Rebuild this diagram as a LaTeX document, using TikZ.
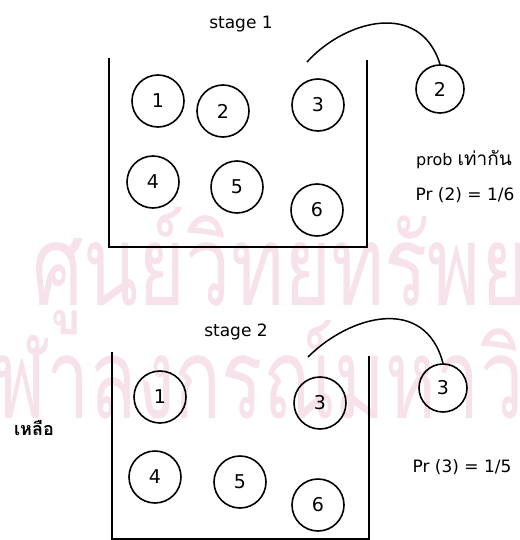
\documentclass[tikz,border=0pt]{standalone}
\usepackage{fontspec}
\setmainfont{DejaVu Sans}
\newfontfamily\thaifont[Script=Thai]{Loma}
\definecolor{wmark}{RGB}{247,226,235}
\begin{document}
\begin{tikzpicture}[x=1pt,y=-1pt,
  ball/.style={circle, draw, line width=1.6pt, minimum size=52pt, inner sep=0pt,
               font=\fontsize{19}{19}\selectfont},
  outball/.style={ball, minimum size=48pt},
  wall/.style={line width=1.8pt},
  lift/.style={line width=1.5pt},
  txt/.style={inner sep=0pt, font=\fontsize{17}{17}\selectfont},
  wm/.style={inner sep=0pt, text=wmark, anchor=base west,
             font=\thaifont\fontsize{112}{112}\selectfont}]
\useasboundingbox (0,0) rectangle (519,540);
\clip (0,0) rectangle (519,540);
\fill[white] (0,0) rectangle (519,540);

% pale library stamp behind the drawing
\node[wm] (wm1) at (32,305) {\scalebox{0.72}[1]{ศูนย์วิทยทรัพยากร}};
\node[wm] (wm2) at (-52,418) {\scalebox{0.69}[1]{จุฬาลงกรณ์มหาวิทยาลัย}};

% ---------------- stage 1 ----------------
\node[txt] (s1) at (241,24) {stage 1};
\draw[wall] (109,58) -- (109,247) -- (367,247) -- (367,60);
\node[ball] (a1) at (158,101) {1};
\node[ball] (a2) at (223,111) {2};
\node[ball] (a3) at (318,105) {3};
\node[ball] (a4) at (153,182) {4};
\node[ball] (a5) at (237,187) {5};
\node[ball] (a6) at (317,210) {6};
\node[outball] (ao) at (440,89) {2};
\coordinate (arc1s) at (307,62);
\coordinate (arc1e) at (ao.north);
\draw[lift] (arc1s) .. controls (345,20) and (420,0) .. (arc1e);
\node[txt, font=\fontsize{16}{16}\selectfont] (eq) at (464,160) {prob {\thaifont\fontsize{19}{19}\selectfont เท่ากัน}};
\node[txt] (p1) at (465,195) {Pr (2) = 1/6};

% ---------------- stage 2 ----------------
\node[txt] (s2) at (236,332) {stage 2};
\draw[wall] (112,352) -- (112,539) -- (369,539) -- (369,356);
\node[ball] (b1) at (160,397) {1};
\node[ball] (b3) at (320,403) {3};
\node[ball] (b4) at (155,477) {4};
\node[ball] (b5) at (240,482) {5};
\node[ball] (b6) at (318,505) {6};
\node[outball] (bo) at (443,388) {3};
\coordinate (arc2s) at (308,357);
\coordinate (arc2e) at (bo.north);
\draw[lift] (arc2s) .. controls (350,315) and (425,295) .. (arc2e);
\node[txt, font=\thaifont\bfseries\fontsize{18}{18}\selectfont] (left) at (34,428) {เหลือ};
\node[txt] (p2) at (462,467) {Pr (3) = 1/5};
\end{tikzpicture}
\end{document}
